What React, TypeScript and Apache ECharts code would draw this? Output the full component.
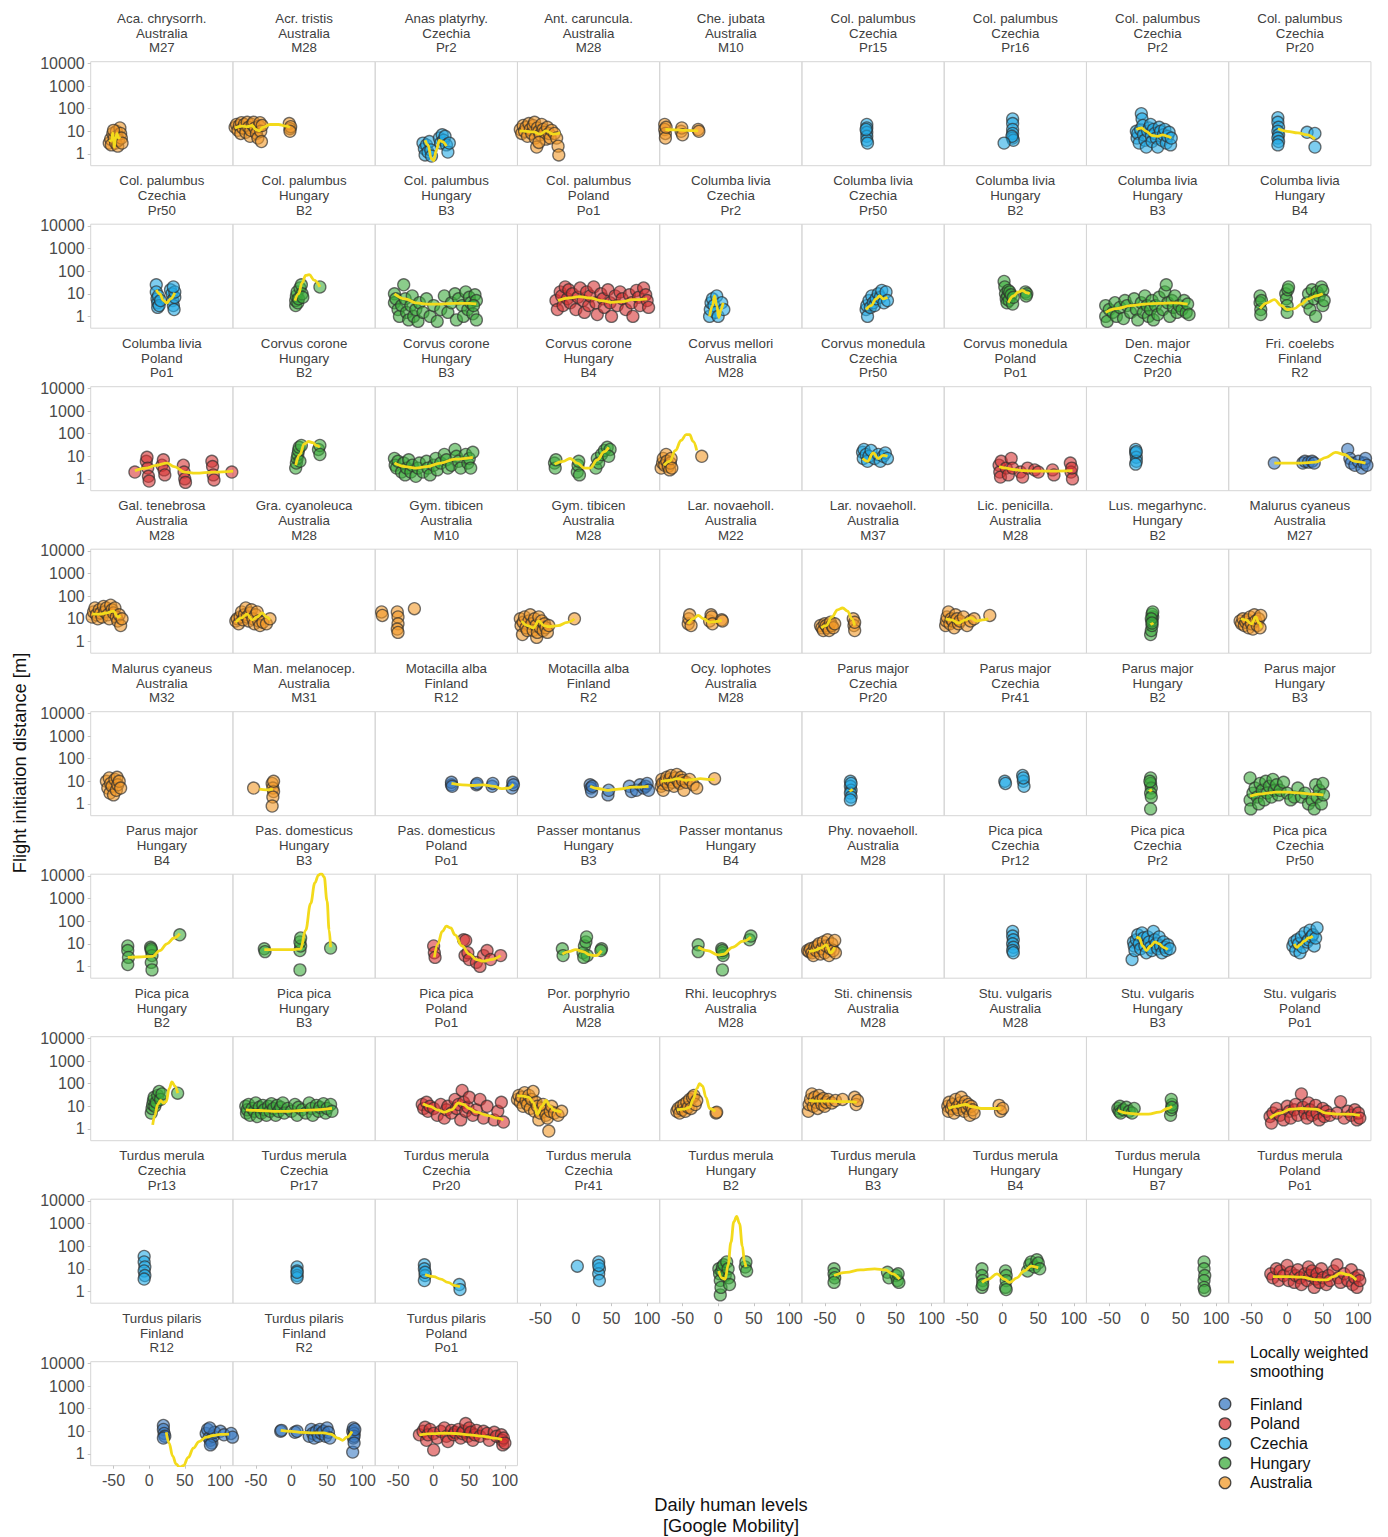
import React, { useEffect, useRef } from "react";
import * as echarts from "echarts";

// Facet labels: species, country, site (one entry per panel, row-major, 9 per row)
const species = [
  "Aca. chrysorrh.", "Acr. tristis", "Anas platyrhy.", "Ant. caruncula.", "Che. jubata", "Col. palumbus", "Col. palumbus", "Col. palumbus", "Col. palumbus",
  "Col. palumbus", "Col. palumbus", "Col. palumbus", "Col. palumbus", "Columba livia", "Columba livia", "Columba livia", "Columba livia", "Columba livia",
  "Columba livia", "Corvus corone", "Corvus corone", "Corvus corone", "Corvus mellori", "Corvus monedula", "Corvus monedula", "Den. major", "Fri. coelebs",
  "Gal. tenebrosa", "Gra. cyanoleuca", "Gym. tibicen", "Gym. tibicen", "Lar. novaeholl.", "Lar. novaeholl.", "Lic. penicilla.", "Lus. megarhync.", "Malurus cyaneus",
  "Malurus cyaneus", "Man. melanocep.", "Motacilla alba", "Motacilla alba", "Ocy. lophotes", "Parus major", "Parus major", "Parus major", "Parus major",
  "Parus major", "Pas. domesticus", "Pas. domesticus", "Passer montanus", "Passer montanus", "Phy. novaeholl.", "Pica pica", "Pica pica", "Pica pica",
  "Pica pica", "Pica pica", "Pica pica", "Por. porphyrio", "Rhi. leucophrys", "Sti. chinensis", "Stu. vulgaris", "Stu. vulgaris", "Stu. vulgaris",
  "Turdus merula", "Turdus merula", "Turdus merula", "Turdus merula", "Turdus merula", "Turdus merula", "Turdus merula", "Turdus merula", "Turdus merula",
  "Turdus pilaris", "Turdus pilaris", "Turdus pilaris",
];

const countries = [
  "Australia", "Australia", "Czechia", "Australia", "Australia", "Czechia", "Czechia", "Czechia", "Czechia",
  "Czechia", "Hungary", "Hungary", "Poland", "Czechia", "Czechia", "Hungary", "Hungary", "Hungary",
  "Poland", "Hungary", "Hungary", "Hungary", "Australia", "Czechia", "Poland", "Czechia", "Finland",
  "Australia", "Australia", "Australia", "Australia", "Australia", "Australia", "Australia", "Hungary", "Australia",
  "Australia", "Australia", "Finland", "Finland", "Australia", "Czechia", "Czechia", "Hungary", "Hungary",
  "Hungary", "Hungary", "Poland", "Hungary", "Hungary", "Australia", "Czechia", "Czechia", "Czechia",
  "Hungary", "Hungary", "Poland", "Australia", "Australia", "Australia", "Australia", "Hungary", "Poland",
  "Czechia", "Czechia", "Czechia", "Czechia", "Hungary", "Hungary", "Hungary", "Hungary", "Poland",
  "Finland", "Finland", "Poland",
];

const sites = [
  "M27", "M28", "Pr2", "M28", "M10", "Pr15", "Pr16", "Pr2", "Pr20",
  "Pr50", "B2", "B3", "Po1", "Pr2", "Pr50", "B2", "B3", "B4",
  "Po1", "B2", "B3", "B4", "M28", "Pr50", "Po1", "Pr20", "R2",
  "M28", "M28", "M10", "M28", "M22", "M37", "M28", "B2", "M27",
  "M32", "M31", "R12", "R2", "M28", "Pr20", "Pr41", "B2", "B3",
  "B4", "B3", "Po1", "B3", "B4", "M28", "Pr12", "Pr2", "Pr50",
  "B2", "B3", "Po1", "M28", "M28", "M28", "M28", "B3", "Po1",
  "Pr13", "Pr17", "Pr20", "Pr41", "B2", "B3", "B4", "B7", "Po1",
  "R12", "R2", "Po1",
];

// Observations per panel: [daily human level (Google Mobility), flight initiation distance (m)]
const observations: number[][][] = [
  [[-56,3],[-54,4.5],[-53,2.5],[-51,8],[-49,5],[-47,3],[-46,10],[-45,6],[-44,2.2],[-43,4],[-41,14],[-40,8],[-39,5],[-38,3],[-50,11]],
  [[-79,15],[-77,20],[-75,11],[-73,18],[-71,8],[-70,24],[-68,14],[-66,20],[-64,9],[-62,25],[-60,15],[-58,6],[-57,11],[-55,20],[-53,25],[-51,14],[-49,8],[-47,5],[-45,17],[-44,24],[-43,10],[-42,3.5],[-41,18],[-3,22],[-2,13],[-1,16],[-2,10]],
  [[-15,3],[-13,1.7],[-12,0.9],[-10,2.5],[-8,1.2],[-6,3.5],[-4,1.5],[-3,0.8],[8,5],[10,3],[12,7],[14,4],[16,6],[18,2.5],[20,1.2],[22,3]],
  [[-78,12],[-76,8],[-74,18],[-72,10],[-70,15],[-68,6],[-66,22],[-64,12],[-62,8],[-60,18],[-58,25],[-57,5],[-55,2],[-54,14],[-52,10],[-50,7],[-48,20],[-46,12],[-44,9],[-42,4.5],[-40,15],[-38,8],[-36,5],[-34,11],[-30,8],[-27,5],[-25,2.2],[-24,0.9],[-52,3.2]],
  [[-75,20],[-75,12],[-74,8],[-74,5],[-73,15],[-52,10],[-51,14],[-50,7],[-28,12],[-27,10]],
  [[9,20],[9,14],[9,9],[9,6],[9,4],[10,3],[8,12]],
  [[14,35],[14,22],[14,12],[14,8],[14,5],[15,4],[13,6],[2,3]],
  [[-12,10],[-11,5],[-10,8],[-8,3],[-6,12],[-5,60],[-4,35],[-3,18],[-2,7],[0,4],[2,2],[4,10],[6,14],[8,20],[9,6],[10,3.5],[12,12],[14,8],[16,5],[18,2],[20,15],[22,10],[24,4],[26,7],[28,12],[30,3],[32,6],[34,9],[36,2.5],[37,5]],
  [[-13,40],[-13,25],[-12,15],[-13,10],[-12,7],[-13,5],[-12,3.5],[-13,2.5],[28,9],[39,8],[39,2]],

  [[10,25],[10,12],[11,6],[12,4],[12,2.5],[13,8],[14,3],[30,15],[32,10],[33,5],[34,3],[35,2],[36,7],[36,12],[34,20],[16,5]],
  [[6,3],[6,5],[7,8],[8,12],[9,4],[10,6],[12,18],[14,25],[15,10],[16,7],[40,20]],
  [[-55,10],[-55,4],[-53,6],[-50,2],[-48,1],[-45,3],[-42,25],[-40,6],[-38,1.5],[-35,0.7],[-32,3],[-30,8],[-28,1],[-25,2],[-22,0.6],[-20,4],[-15,1.5],[-10,6],[-5,1],[0,3],[5,0.6],[10,2],[15,8],[20,1.5],[25,4],[30,10],[32,0.7],[35,6],[40,3],[42,1],[45,12],[48,2],[50,7],[52,4],[55,1.3],[58,9],[60,5],[60,0.7],[56,3]],
  [[-28,5],[-26,2],[-22,12],[-20,8],[-18,3],[-15,20],[-12,6],[-10,15],[-8,4],[-5,10],[0,2],[3,7],[6,18],[10,5],[12,1.5],[15,12],[18,3],[20,8],[25,20],[28,4],[30,1.2],[35,10],[38,6],[40,2.5],[45,15],[48,4],[50,1],[55,8],[58,3],[62,12],[65,6],[70,2],[75,9],[78,4],[80,1],[85,14],[88,7],[90,3],[95,18],[98,9],[100,5],[102,2.5]],
  [[-12,1],[-11,2],[-10,4],[-8,6],[-6,3],[-4,1.5],[-2,8],[0,1],[5,4],[8,2]],
  [[8,2],[9,3],[10,1],[12,5],[14,2.5],[16,8],[18,4],[20,3],[22,6],[25,10],[28,7],[30,14],[33,4],[36,12],[38,5]],
  [[2,35],[3,20],[4,10],[5,6],[6,4],[7,8],[8,14],[9,5],[10,12],[12,9],[14,3.5],[15,7],[32,12],[34,10],[33,8]],
  [[-55,3],[-55,1],[-53,0.6],[-50,2],[-45,1.5],[-42,4],[-40,1],[-35,2.5],[-30,0.8],[-28,5],[-25,3],[-20,1.5],[-15,6],[-12,2],[-10,0.7],[-5,4],[-2,1.5],[0,8],[3,3],[5,1],[8,2],[10,5],[12,0.7],[15,3],[18,1.2],[20,7],[25,2],[28,12],[30,25],[32,4],[35,1],[38,5],[40,2.5],[42,8],[45,1.5],[48,3],[52,2],[55,5],[58,1.5],[60,3.5],[62,1.2]],
  [[-38,8],[-38,4],[-37,2],[-37,1.2],[-36,5],[-2,10],[-1,6],[0,3],[0,1.5],[1,15],[2,20],[28,4],[30,10],[32,2],[35,15],[38,6],[40,1],[42,12],[45,8],[48,20],[50,3],[50,14],[52,5]],

  [[-20,2],[-4,6],[-3,9],[-2,3],[-1,1.3],[0,0.8],[18,4],[20,7],[21,2.5],[22,1.5],[48,4],[49,2],[50,1],[51,0.7],[88,6],[89,3.5],[90,1.5],[91,0.9],[116,2],[118,2.2]],
  [[6,3],[7,5],[8,8],[9,12],[10,18],[11,25],[12,6],[14,30],[38,20],[40,30],[40,12]],
  [[-55,8],[-54,4],[-52,3],[-50,6],[-45,2],[-42,5],[-40,1.5],[-38,3],[-35,7],[-32,2],[-30,4],[-25,1.3],[-22,3],[-20,5],[-15,2],[-10,6],[-8,3],[-5,1.5],[0,4],[3,8],[5,2.5],[10,5],[15,12],[18,7],[20,3],[25,4],[30,20],[32,10],[35,6],[38,3],[45,12],[48,5],[50,8],[52,3],[55,15]],
  [[-30,5],[-29,3],[-28,7],[2,2],[3,4],[4,6],[5,1.5],[28,3],[30,8],[32,5],[36,12],[40,18],[44,25],[48,20],[46,10]],
  [[-80,3],[-78,5],[-77,8],[-75,4],[-73,12],[-72,6],[-70,3.5],[-68,2.5],[-67,5],[-66,8],[-65,3],[-23,10]],
  [[3,15],[4,8],[5,20],[8,12],[10,6],[12,10],[15,18],[20,8],[25,12],[28,6],[32,10],[35,14],[38,8]],
  [[-5,4],[-4,2],[-3,1.2],[-2,6],[5,3],[8,1.5],[12,8],[14,3],[25,2],[28,1.2],[35,3],[45,2.5],[50,2],[70,2.5],[72,1.5],[95,5],[96,2],[98,1],[97,3]],
  [[-13,20],[-13,14],[-12,9],[-12,6],[-13,4.5],[-12,16]],
  [[-18,5],[22,5],[25,6],[30,5.5],[35,6],[38,5],[85,20],[88,8],[90,5],[95,4],[100,6],[105,3],[108,5],[110,8],[112,4]],

  [[-80,12],[-78,20],[-76,30],[-74,15],[-72,10],[-70,25],[-68,18],[-66,12],[-64,35],[-62,20],[-60,30],[-58,15],[-56,10],[-54,40],[-52,25],[-50,18],[-48,30],[-46,12],[-44,8],[-42,15],[-40,5],[-38,10]],
  [[-78,8],[-76,10],[-74,6],[-72,12],[-70,20],[-68,9],[-66,15],[-64,30],[-62,12],[-60,8],[-58,18],[-56,25],[-54,10],[-52,6],[-50,15],[-48,20],[-46,8],[-44,5],[-40,7],[-35,6],[-30,10]],
  [[-73,20],[-72,14],[-51,20],[-50,12],[-50,6],[-51,3.5],[-50,2.5],[-27,28]],
  [[-78,10],[-77,5],[-75,2],[-74,7],[-72,12],[-70,4],[-68,3],[-66,8],[-64,15],[-62,6],[-60,3],[-58,10],[-56,5],[-55,1.5],[-54,2.5],[-52,12],[-50,4],[-48,8],[-46,3],[-44,6],[-42,4],[-40,2.5],[-38,5],[-2,10]],
  [[-42,6],[-41,10],[-40,15],[-38,5],[-12,8],[-10,15],[-9,12],[-8,6],[5,9],[6,8]],
  [[-56,5],[-54,4],[-52,3],[-50,6],[-48,5],[-46,4],[-44,3],[-42,7],[-40,5],[-38,4],[-36,6],[-10,10],[-9,5],[-8,3],[-8,7]],
  [[-80,5],[-79,8],[-78,12],[-76,20],[-74,6],[-72,10],[-70,8],[-68,4],[-66,15],[-64,10],[-62,6],[-60,8],[-55,12],[-50,5],[-45,8],[-40,10],[-18,14]],
  [[8,2],[9,3],[10,5],[10,8],[11,12],[10,16],[11,20],[9,10],[10,6.5]],
  [[-66,8],[-64,6],[-62,10],[-60,5],[-58,7],[-56,9],[-54,4],[-52,12],[-50,6],[-48,3.5],[-46,15],[-44,8],[-42,5],[-40,10],[-38,4],[-37,14]],

  [[-60,10],[-58,5],[-56,14],[-55,3],[-54,8],[-52,6],[-50,2.5],[-48,12],[-46,4],[-45,15],[-44,7],[-42,10],[-40,5]],
  [[-53,5],[-27,8],[-26,5],[-25,3.5],[-26,2],[-25,10],[-27,0.8]],
  [[25,7],[25,9],[26,6],[60,7],[61,8],[82,6],[83,8],[110,5],[111,9],[112,7]],
  [[20,7],[21,5],[22,3.5],[23,6],[45,2.5],[46,4],[75,6],[78,3.5],[85,4],[90,7],[95,5],[98,6],[100,8],[102,4]],
  [[-80,6],[-79,12],[-78,8],[-77,4],[-74,10],[-72,15],[-70,7],[-68,12],[-66,18],[-64,9],[-62,6],[-60,14],[-58,20],[-56,10],[-54,8],[-52,15],[-50,11],[-48,4],[-45,9],[-40,12],[-35,7],[-30,5],[-5,13]],
  [[-14,10],[-14,6],[-13,4],[-14,3],[-13,2],[-14,1.5],[-13,8]],
  [[3,10],[4,8],[28,18],[29,10],[30,6],[29,14]],
  [[8,14],[8,8],[9,5],[8,3],[9,2],[8,0.6],[7,10]],
  [[-52,14],[-52,1.5],[-51,0.6],[-48,3],[-45,5],[-42,2],[-40,1],[-38,8],[-35,4],[-32,1.5],[-30,10],[-28,3],[-25,6],[-22,2],[-20,12],[-18,4],[-15,7],[-12,2.5],[-10,4],[-5,9],[0,3],[5,1.5],[10,2],[15,5],[20,2],[25,3],[30,1],[35,1.5],[38,0.6],[40,7],[42,2],[45,4],[48,1],[50,8],[51,2.5]],

  [[-30,8],[-30,5],[-29,2.5],[-30,1.2],[2,7],[3,5],[4,3],[3,1.5],[4,0.7],[3,6],[43,25]],
  [[-38,6],[-37,4.5],[12,5],[13,8],[12,12],[13,18],[12,0.7],[55,6.5]],
  [[0,8],[1,4],[2,2.5],[42,15],[45,14],[44,3],[48,4],[50,2],[60,1.5],[65,1],[70,3],[75,5],[80,2],[94,3]],
  [[-19,6],[-18,3],[10,4],[12,8],[14,12],[15,20],[16,3],[11,2.5],[36,6],[35,5]],
  [[-28,9],[-28,4.5],[5,6],[6,4],[7,3],[6,5],[6,0.7],[44,15],[46,22]],
  [[-74,5],[-72,4.5],[-70,6],[-68,4],[-66,3],[-64,7],[-62,5],[-60,8],[-58,10],[-56,3.5],[-54,6],[-52,12],[-50,4],[-48,8],[-46,15],[-44,3],[-42,6],[-40,10],[-38,5],[-36,14],[-35,4]],
  [[14,35],[14,22],[15,15],[14,10],[15,7],[14,5],[15,4]],
  [[-18,2],[-16,12],[-15,8],[-14,5],[-12,15],[-10,25],[-8,10],[-6,6],[-4,30],[-2,18],[0,8],[2,4],[4,20],[6,12],[8,7],[10,5],[12,35],[14,15],[16,10],[18,6],[20,20],[22,8],[24,4],[26,12],[28,7],[30,5],[32,9],[35,6]],
  [[8,8],[10,12],[12,5],[14,15],[16,10],[18,4],[20,20],[22,7],[25,30],[28,12],[30,15],[32,40],[34,20],[36,25],[38,8],[40,18],[42,50]],

  [[3,5],[4,8],[5,12],[6,18],[7,25],[8,10],[10,15],[12,30],[14,45],[16,20],[18,35],[40,38]],
  [[-64,10],[-63,5],[-62,7],[-60,12],[-58,4],[-55,8],[-52,6],[-50,14],[-48,3.5],[-45,9],[-42,5],[-40,11],[-38,7],[-35,4],[-32,10],[-30,6],[-28,13],[-25,8],[-22,4],[-20,11],[-18,6],[-15,9],[-12,14],[-10,5],[-5,8],[0,6],[5,12],[8,4],[10,9],[15,7],[20,5],[25,14],[28,8],[30,4],[35,11],[38,6],[40,9],[45,13],[48,5],[50,8],[55,12],[57,6]],
  [[-16,12],[-14,8],[-10,15],[-8,6],[-5,10],[0,8],[5,4],[10,12],[15,3],[18,7],[20,10],[25,5],[30,20],[32,8],[35,12],[38,2.5],[40,50],[42,15],[45,6],[48,9],[50,25],[55,4],[60,7],[65,20],[70,3],[75,10],[85,2.5],[90,6],[95,15],[98,2]],
  [[-82,20],[-80,30],[-78,15],[-76,25],[-74,10],[-72,40],[-70,18],[-68,12],[-66,30],[-64,8],[-62,20],[-60,45],[-58,6],[-56,15],[-54,10],[-52,2.5],[-50,5],[-48,8],[-46,12],[-44,6],[-42,4],[-40,3],[-38,0.8],[-36,6],[-34,10],[-30,5],[-25,4],[-20,6]],
  [[-58,6],[-56,8],[-54,5],[-52,10],[-50,7],[-48,12],[-46,6],[-44,15],[-42,9],[-40,20],[-38,8],[-36,25],[-34,30],[-32,12],[-30,18],[-3,5],[-2,5.5]],
  [[-73,6],[-72,12],[-70,20],[-68,35],[-66,10],[-64,25],[-62,15],[-60,8],[-58,30],[-56,18],[-54,12],[-52,22],[-50,10],[-48,15],[-45,20],[-40,14],[-35,18],[-25,20],[-8,25],[-6,12],[-4,18]],
  [[-77,10],[-76,6],[-75,15],[-72,8],[-70,12],[-68,5],[-66,20],[-64,9],[-62,7],[-60,14],[-58,25],[-56,10],[-54,6],[-52,16],[-50,8],[-48,12],[-46,4],[-44,10],[-42,7],[-40,5],[-5,11],[-3,6],[0,8]],
  [[-38,8],[-36,6],[-35,10],[-34,5],[-30,7],[-26,9],[-22,6],[-18,5],[-15,8],[36,4],[37,7],[38,12],[37,20],[38,9]],
  [[-24,3.5],[-22,1.8],[-20,5],[-15,8],[-10,4],[-5,2.5],[0,10],[3,6],[5,3],[10,7],[12,12],[15,4],[20,35],[22,9],[25,5],[28,3],[30,14],[32,7],[35,4],[40,11],[42,5],[45,2.5],[50,8],[52,3.5],[55,6],[60,4],[70,5],[75,16],[80,3],[85,6],[90,4],[95,7],[98,2.5],[100,5],[102,3]],

  [[-7,35],[-7,20],[-6,12],[-7,8],[-6,5],[-7,3.5]],
  [[8,12],[8,8],[8,5],[8,4],[8,7]],
  [[-13,15],[-13,10],[-12,5],[-13,3],[-12,7],[36,2],[37,1.2]],
  [[2,13],[32,20],[33,10],[32,6],[33,3],[32,14]],
  [[1,10],[2,6],[3,3],[3,0.7],[4,1.5],[5,8],[6,12],[8,15],[10,5],[12,20],[14,10],[15,4],[16,2],[38,12],[39,20],[40,8]],
  [[-37,10],[-37,6],[-36,4],[-37,2.5],[38,7],[40,4],[50,5],[52,3],[54,2.5],[53,6]],
  [[-29,10],[-29,5],[-28,3],[-29,1.5],[-28,2],[4,8],[5,5],[5,3],[4,1.5],[5,1.2],[35,8],[38,15],[40,20],[45,12],[48,25],[50,18],[52,10]],
  [[83,20],[83,10],[84,5],[83,3],[83,1.5],[84,1.1]],
  [[-23,6],[-20,4],[-15,10],[-12,3],[-10,8],[-5,5],[0,14],[2,3],[5,7],[10,2.5],[12,5],[15,9],[18,4],[20,2],[25,6],[28,3],[30,12],[32,5],[35,8],[38,1.5],[40,3.5],[42,6],[45,2.5],[48,10],[50,4],[55,2],[58,5],[60,3],[65,8],[70,15],[72,4],[75,2.5],[80,6],[85,3],[90,9],[92,2],[95,4],[98,1.5],[100,5],[102,3]],

  [[20,18],[20,12],[21,8],[22,6],[20,5],[80,8],[82,12],[84,5],[86,4],[88,3],[90,6],[92,9],[85,14],[100,10],[105,7],[115,8],[117,5.5],[86,2.5]],
  [[-15,10],[-14,11],[5,9],[8,10],[25,6],[28,12],[30,8],[32,5],[35,10],[38,6],[40,12],[42,8],[45,10],[48,6],[50,14],[52,9],[54,5],[86,10],[87,14],[88,8],[87,5],[88,6],[89,12],[86,1.2],[88,3]],
  [[-20,7],[-15,10],[-12,15],[-10,4],[-8,7],[-5,12],[0,1.5],[0,8],[5,5],[10,10],[15,14],[18,6],[20,3.5],[25,11],[28,7],[30,9],[35,12],[38,5],[40,8],[42,10],[45,22],[48,6],[50,14],[52,9],[55,4],[58,7],[60,11],[65,6],[70,10],[75,8],[78,4],[85,9],[88,6],[95,7],[96,4],[97,2.5],[98,5],[100,3]],
];

// Locally weighted smoothing curve per panel (empty where none was fitted)
const smoothers: number[][][] = [
  [[-56,3.5],[-53,4],[-51,8.5],[-49,2],[-47,5],[-45,8],[-43,5],[-41,6]],
  [[-79,14],[-70,17],[-62,16],[-55,18],[-50,12],[-45,10.5],[-40,15],[-30,20],[-18,20],[-8,17],[-2,15]],
  [[-12,4],[-8,2.5],[-3,0.6],[0,0.5],[4,1.5],[8,4],[12,3.5],[18,2.2]],
  [[-79,10.5],[-70,10],[-60,9.5],[-50,7.5],[-42,10.5],[-32,7.5],[-22,8.5]],
  [[-74,12],[-60,11.5],[-45,11],[-28,10.5]],
  [],
  [],
  [[-12,12],[-5,14],[2,10],[10,6.5],[18,6],[25,7],[32,6],[37,5]],
  [[-13,13],[0,10],[15,8.5],[28,7],[39,4.5]],

  [[10,15],[15,10],[20,5],[25,4],[30,6],[36,11]],
  [[5,5],[10,10],[15,30],[20,65],[25,70],[32,40],[40,20]],
  [[-55,10],[-40,6],[-25,4],[-10,3.5],[10,3.5],[30,3.8],[50,3.8],[60,3.6]],
  [[-25,5],[-10,6.5],[5,7.5],[20,6.5],[35,5],[50,4.2],[65,4.5],[80,5.5],[100,6]],
  [[-12,1],[-8,3],[-5,8],[-2,3],[1,0.9],[4,2],[7,4]],
  [[8,2],[15,3],[22,6],[27,8],[32,6],[38,7]],
  [[8,4],[15,8],[22,12],[28,14],[34,11],[38,10]],
  [[-55,1.5],[-40,2.2],[-20,3],[0,3.5],[20,3.8],[40,4],[60,3.5]],
  [[-38,2.2],[-28,4],[-18,5.5],[-8,3],[0,2],[10,2.2],[20,3.5],[30,6],[40,8],[50,10]],

  [[-20,2.3],[-5,3],[10,4],[25,5],[35,3.5],[50,2],[65,1.8],[90,2],[118,2.2]],
  [[6,4],[12,12],[18,35],[24,45],[30,40],[35,30],[40,25]],
  [[-55,5],[-40,3.5],[-25,3],[-10,3.5],[10,5],[30,7.5],[55,9]],
  [[-30,4.5],[-18,6],[-8,8],[2,5],[12,3],[20,3],[30,7],[40,16],[46,25]],
  [[-76,4],[-68,6],[-60,18],[-52,50],[-45,90],[-40,90],[-35,45],[-30,18]],
  [[3,8],[10,6],[18,14],[25,8],[32,11],[38,10]],
  [[-5,3.5],[5,3],[15,2.6],[30,2.3],[45,2.2],[70,2.2],[98,2.3]],
  [],
  [[-18,5],[0,5],[20,5],[40,5.5],[55,9],[68,15],[80,12],[95,6],[110,5]],

  [[-80,16],[-70,16],[-60,18],[-50,22],[-44,12],[-40,14]],
  [[-78,7],[-70,11],[-62,16],[-55,9],[-48,12],[-41,18],[-35,12],[-30,9]],
  [],
  [[-76,8],[-68,5],[-60,4],[-52,8],[-45,5],[-38,4.5],[-25,5],[-12,7],[-2,10]],
  [[-42,6],[-35,10],[-28,14],[-20,10],[-12,7],[-4,7.5],[5,8.5]],
  [[-55,4],[-48,5],[-40,12],[-32,25],[-25,30],[-18,22],[-12,10],[-8,5]],
  [[-80,10],[-72,9],[-62,6.5],[-52,9],[-45,11],[-36,8],[-28,9],[-20,10]],
  [[8,5.5],[10,6],[12,6.5]],
  [[-65,10],[-58,9],[-50,6],[-44,12],[-40,7],[-36,4]],

  [],
  [[-45,4.5],[-35,4.2],[-26,4.5]],
  [[25,8],[40,7],[55,6.5],[70,7],[85,6],[95,4.7],[105,5],[112,7.5]],
  [[20,6],[30,4.8],[45,4],[60,4.5],[80,5.5],[102,6]],
  [[-80,10],[-68,11],[-57,13],[-45,11],[-35,12],[-25,13],[-12,12],[-5,12]],
  [[-15,3.5],[-13,4],[-11,4.5]],
  [],
  [[6,3.5],[8,4],[10,4.2]],
  [[-52,2.2],[-35,2.8],[-15,3.3],[0,3.3],[20,3],[35,2.7],[51,2.5]],

  [[-30,2.5],[-15,2.6],[5,2.8],[15,5],[25,10],[35,18],[43,28]],
  [[-38,5.5],[-15,5.5],[5,5.5],[13,6],[20,40],[27,600],[33,5000],[38,11000],[42,13000],[46,9000],[50,800],[53,40],[55,7]],
  [[1,2.5],[6,10],[12,35],[18,60],[24,50],[30,25],[40,8],[50,3.5],[60,2],[70,1.7],[80,2],[94,3]],
  [[-19,3.5],[-10,4.5],[0,5.5],[10,4.5],[20,3.2],[28,3],[36,5]],
  [[-28,7],[-15,5],[0,3.2],[8,3.5],[20,7],[35,13],[46,20]],
  [[-72,4.5],[-65,5],[-55,6.5],[-48,9],[-42,4],[-36,7]],
  [],
  [[-12,20],[-8,18],[-3,8],[2,5],[8,8],[14,12],[20,10],[26,7],[32,5.5]],
  [[10,10],[14,7],[18,9],[24,13],[30,18],[36,22]],

  [[5,1.5],[8,4],[12,12],[16,18],[20,14],[24,16],[28,60],[32,120],[36,80],[40,38]],
  [[-64,7],[-45,6.5],[-25,6],[-5,6],[15,6.5],[35,7],[57,8]],
  [[-15,13],[-5,10],[5,7],[15,5.5],[25,7],[35,14],[42,12],[50,8],[60,5.5],[75,4],[90,3],[98,2.5]],
  [[-82,30],[-74,28],[-66,25],[-60,15],[-54,4.5],[-48,10],[-42,18],[-36,10],[-30,6.5],[-20,5.5]],
  [[-58,7],[-48,7.5],[-40,9],[-35,20],[-30,60],[-26,100],[-22,80],[-17,25],[-12,8],[-4,6]],
  [[-72,18],[-60,17],[-45,17],[-30,16],[-15,16],[-5,15]],
  [[-76,8],[-65,10],[-52,12],[-42,9.5],[-30,8],[-15,8],[-3,8]],
  [[-38,6.5],[-25,5],[-10,4.5],[5,4.5],[20,5.5],[32,8],[38,10]],
  [[-24,3],[-10,5],[5,7.5],[20,8],[40,7.5],[55,5],[70,4.5],[85,4.5],[102,4]],

  [],
  [],
  [[-12,5.5],[0,4.5],[10,3.5],[20,2.5],[30,1.8],[37,1.6]],
  [],
  [[1,8],[5,4],[10,3.5],[14,15],[18,150],[22,1200],[26,2100],[30,1000],[34,100],[37,20],[39,12]],
  [[-37,5],[-20,7],[0,9],[20,10],[35,9],[45,6],[55,3.5]],
  [[-29,2.5],[-20,3.5],[-8,6],[2,3.5],[10,2.5],[20,4],[30,8],[40,13],[50,11]],
  [],
  [[-20,4.5],[0,4.5],[20,4.3],[40,3.3],[55,3.2],[65,4.5],[75,6.5],[85,5.5],[97,3.2]],

  [[24,9],[28,3],[33,0.8],[38,0.35],[43,0.25],[48,0.3],[55,0.7],[62,1.8],[70,3.5],[80,5.5],[90,6.5],[100,7.3],[112,7.5]],
  [[-15,11],[0,10],[15,9],[30,8.5],[45,8.5],[55,7.5],[65,5],[72,4],[78,5.5],[85,10]],
  [[-20,7],[0,7.8],[15,8.2],[30,8],[50,7],[70,6],[85,5],[96,4.3]],
];

const countryOrder = ["Finland", "Poland", "Czechia", "Hungary", "Australia"];
const countryFill: Record<string, string> = {
  Finland: "rgba(57,122,194,0.74)",
  Poland: "rgba(214,51,51,0.74)",
  Czechia: "rgba(36,171,229,0.74)",
  Hungary: "rgba(59,171,59,0.74)",
  Australia: "rgba(242,152,38,0.74)",
};
const smoothName = "Locally weighted smoothing";
const xTicks = [-50, 0, 50, 100];
const yTicks = [1, 10, 100, 1000, 10000];
const xLimits = [-82, 117.6];
const yLimits = [0.3, 12000];

const FONT = '"Liberation Sans", Arial, Helvetica, sans-serif';
const SMOOTH_COLOR = "#f3da1b";
const POINT_BORDER = "rgba(45,45,45,0.85)";

// Facet layout
const NCOL = 9;
const PANEL_LEFT = 90.7;
const PANEL_TOP = 61.7;
const PANEL_W = 142.25;
const PANEL_H = 104;
const ROW_STEP = 162.5;

function buildOption(): echarts.EChartsOption {
  const grid: any[] = [];
  const xAxis: any[] = [];
  const yAxis: any[] = [];
  const series: any[] = [];
  const graphic: any[] = [];
  const n = species.length;

  for (let i = 0; i < n; i++) {
    const r = Math.floor(i / NCOL);
    const c = i % NCOL;
    const left = PANEL_LEFT + c * PANEL_W;
    const top = PANEL_TOP + r * ROW_STEP;
    const showX = i + NCOL >= n;
    const showY = c === 0;

    grid.push({
      left,
      top,
      width: PANEL_W,
      height: PANEL_H,
      show: true,
      borderColor: "#d6d6d6",
      borderWidth: 1,
      backgroundColor: "transparent",
    });

    xAxis.push({
      type: "value",
      gridIndex: i,
      min: xLimits[0],
      max: xLimits[1],
      splitLine: { show: false },
      axisLine: { show: false, onZero: false },
      axisTick: {
        show: showX,
        customValues: xTicks,
        length: 3,
        lineStyle: { color: "#c4c4c4" },
      },
      axisLabel: {
        show: showX,
        customValues: xTicks,
        fontSize: 16,
        fontFamily: FONT,
        color: "#4a4a4a",
        margin: 7,
      },
    });

    yAxis.push({
      type: "log",
      logBase: 10,
      gridIndex: i,
      min: yLimits[0],
      max: yLimits[1],
      splitLine: { show: false },
      minorSplitLine: { show: false },
      axisLine: { show: false, onZero: false },
      axisTick: {
        show: showY,
        customValues: yTicks,
        length: 3,
        lineStyle: { color: "#c4c4c4" },
      },
      axisLabel: {
        show: showY,
        customValues: yTicks,
        fontSize: 16,
        fontFamily: FONT,
        color: "#4a4a4a",
        margin: 6,
        formatter: (v: number) => String(Math.round(v)),
      },
    });

    series.push({
      type: "scatter",
      name: countries[i],
      xAxisIndex: i,
      yAxisIndex: i,
      data: observations[i],
      symbol: "circle",
      symbolSize: 12,
      silent: true,
      z: 2,
      itemStyle: {
        color: countryFill[countries[i]],
        borderColor: POINT_BORDER,
        borderWidth: 1.3,
      },
    });

    if (smoothers[i].length) {
      series.push({
        type: "line",
        name: smoothName,
        xAxisIndex: i,
        yAxisIndex: i,
        data: smoothers[i],
        smooth: 0.4,
        smoothMonotone: "x",
        symbol: "none",
        silent: true,
        clip: true,
        z: 3,
        lineStyle: { color: SMOOTH_COLOR, width: 2.8 },
      });
    }

    // strip label above each panel
    graphic.push({
      type: "text",
      x: left + PANEL_W / 2,
      y: top - 28.7,
      silent: true,
      style: {
        text: `${species[i]}\n${countries[i]}\n${sites[i]}`,
        fontSize: 13.3,
        fontFamily: FONT,
        fill: "#404040",
        lineHeight: 14.6,
        align: "center",
        verticalAlign: "middle",
        textAlign: "center",
        textVerticalAlign: "middle",
      },
    });
  }

  // axis titles
  graphic.push({
    type: "text",
    x: 19,
    y: 763,
    rotation: Math.PI / 2,
    silent: true,
    style: {
      text: "Flight initiation distance [m]",
      fontSize: 18.3,
      fontFamily: FONT,
      fill: "#111",
      align: "center",
      verticalAlign: "middle",
      textAlign: "center",
      textVerticalAlign: "middle",
    },
  });
  graphic.push({
    type: "text",
    x: 731,
    y: 1515,
    silent: true,
    style: {
      text: "Daily human levels\n[Google Mobility]",
      fontSize: 18.3,
      fontFamily: FONT,
      fill: "#111",
      lineHeight: 20.5,
      align: "center",
      verticalAlign: "middle",
      textAlign: "center",
      textVerticalAlign: "middle",
    },
  });

  // legend: smoothing line
  graphic.push({
    type: "line",
    silent: true,
    shape: { x1: 1218, y1: 1362, x2: 1234, y2: 1362 },
    style: { stroke: SMOOTH_COLOR, lineWidth: 2.8 },
  });
  graphic.push({
    type: "text",
    x: 1250,
    y: 1362,
    silent: true,
    style: {
      text: "Locally weighted\nsmoothing",
      fontSize: 16,
      fontFamily: FONT,
      fill: "#111",
      lineHeight: 18.5,
      align: "left",
      verticalAlign: "middle",
      textAlign: "left",
      textVerticalAlign: "middle",
    },
  });
  // legend: countries
  countryOrder.forEach((name, k) => {
    const cy = 1404 + k * 19.7;
    graphic.push({
      type: "circle",
      silent: true,
      shape: { cx: 1225, cy, r: 5.8 },
      style: { fill: countryFill[name], stroke: POINT_BORDER, lineWidth: 1.3 },
    });
    graphic.push({
      type: "text",
      x: 1250,
      y: cy,
      silent: true,
      style: {
        text: name,
        fontSize: 16,
        fontFamily: FONT,
        fill: "#111",
        align: "left",
        verticalAlign: "middle",
        textAlign: "left",
        textVerticalAlign: "middle",
      },
    });
  });

  return {
    animation: false,
    backgroundColor: "#ffffff",
    grid,
    xAxis,
    yAxis,
    series,
    graphic,
  };
}

export default function App() {
  const ref = useRef<HTMLDivElement>(null);

  useEffect(() => {
    if (!ref.current) return;
    const chart = echarts.init(ref.current, undefined, { renderer: "svg" });
    chart.setOption(buildOption());
    return () => {
      chart.dispose();
    };
  }, []);

  return (
    <div
      ref={ref}
      style={{ position: "absolute", left: 0, top: 0, width: 1388, height: 1537, background: "#fff" }}
    />
  );
}
